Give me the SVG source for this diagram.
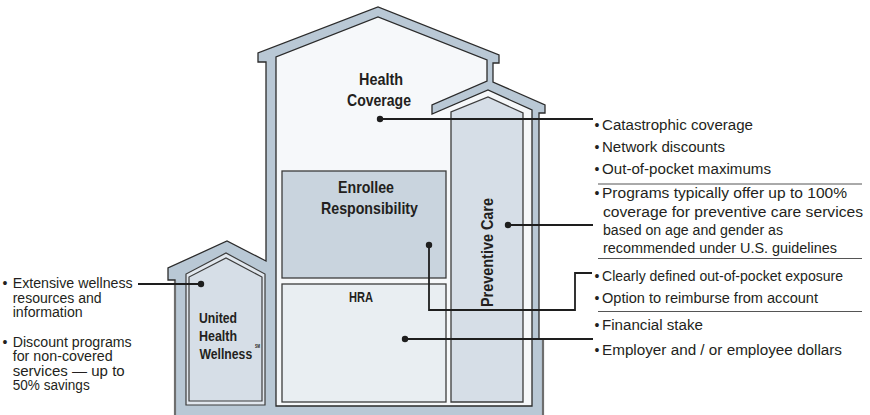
<svg xmlns="http://www.w3.org/2000/svg" width="870" height="415" viewBox="0 0 870 415">
  <style>
    .band { fill: #b9c8d5; stroke: #2b2b2b; stroke-width: 1.3; stroke-linejoin: miter; }
    .interior { fill: #f6f8fa; stroke: #2b2b2b; stroke-width: 1.3; }
    .enrollee { fill: #c9d4de; stroke: #3c3c3c; stroke-width: 1.3; }
    .hra { fill: #e9eef2; stroke: #3c3c3c; stroke-width: 1.3; }
    .prev { fill: #d6dee7; stroke: #3c3c3c; stroke-width: 1.3; }
    .well-outer { fill: #e1e7ee; stroke: #3c3c3c; stroke-width: 1.2; }
    .well-inner { fill: #d6dee7; stroke: #3c3c3c; stroke-width: 1.2; }
    .base { stroke: #6e6e6e; stroke-width: 2.2; fill: none; }
    .lbl { font-family: "Liberation Sans", Arial, sans-serif; font-weight: bold; fill: #231f20; }
    .txt { font-family: "Liberation Sans", Arial, sans-serif; font-size: 14px; fill: #231f20; }
    .conn { stroke: #1e1e1e; stroke-width: 1.8; fill: none; }
    .dot { fill: #1e1e1e; }
    .sep { stroke: #555555; stroke-width: 1; }
  </style>

  <!-- house shell: main building, chimney and the small side house -->
  <g id="house-shell">
    <polygon class="band" points="175,420 175,280 168,280 168,268 227,241 266,261 266,62 258,62 258,53 378,7 499,55 499,63 493,63 493,82 545,105 545,113 539,113 539,339 543,339 543,420"/>
    <line class="base" x1="175" y1="281" x2="175" y2="416"/>
    <line class="base" x1="543" y1="340" x2="543" y2="416"/>
  </g>

  <!-- Health Coverage: the main interior -->
  <g id="health-coverage">
    <polygon class="interior" points="276,406 276,57 378,17 487,60 487,81 432,105 432,114 488,90 532,110 532,406"/>
    <text class="lbl" font-size="16.5" x="359" y="85" textLength="44" lengthAdjust="spacingAndGlyphs">Health</text>
    <text class="lbl" font-size="16.5" x="347" y="105.5" textLength="64" lengthAdjust="spacingAndGlyphs">Coverage</text>
  </g>

  <g id="enrollee-responsibility">
    <rect class="enrollee" x="282" y="171" width="164" height="107"/>
    <text class="lbl" font-size="16.5" x="338" y="193" textLength="56" lengthAdjust="spacingAndGlyphs">Enrollee</text>
    <text class="lbl" font-size="16.5" x="321" y="213.5" textLength="97" lengthAdjust="spacingAndGlyphs">Responsibility</text>
  </g>

  <g id="hra">
    <rect class="hra" x="282" y="284" width="164" height="118"/>
    <text class="lbl" font-size="14" x="349" y="302" textLength="24" lengthAdjust="spacingAndGlyphs">HRA</text>
  </g>

  <g id="preventive-care">
    <polygon class="prev" points="451,402 451,112 488,97 523,113 523,402"/>
    <text class="lbl" font-size="16.5" transform="translate(493,307) rotate(-90)" x="0" y="0" textLength="109" lengthAdjust="spacingAndGlyphs">Preventive Care</text>
  </g>

  <g id="united-health-wellness">
    <polygon class="well-outer" points="186,405 186,274 226,253 265,274 265,405"/>
    <polygon class="well-inner" points="189,401 189,277 226,258 262,277 262,401"/>
    <text class="lbl" font-size="14" x="199" y="323" textLength="38" lengthAdjust="spacingAndGlyphs">United</text>
    <text class="lbl" font-size="14" x="199" y="341" textLength="38" lengthAdjust="spacingAndGlyphs">Health</text>
    <text class="lbl" font-size="14" transform="translate(199.5,359) scale(0.873,1)">Wellness</text>
    <text class="lbl" font-size="5" x="255" y="347.5" textLength="5" lengthAdjust="spacingAndGlyphs">SM</text>
  </g>

  <!-- leader lines from each area to its notes -->
  <g id="connectors">
    <path class="conn" d="M380,119 H593"/>
    <path class="conn" d="M508,225 H593"/>
    <path class="conn" d="M429,245 V310 H575 V273 H592"/>
    <path class="conn" d="M405,339 H593"/>
    <path class="conn" d="M201,284 H138"/>
    <circle class="dot" cx="380" cy="119" r="3.2"/>
    <circle class="dot" cx="508" cy="225" r="3.2"/>
    <circle class="dot" cx="429" cy="245" r="3.2"/>
    <circle class="dot" cx="405" cy="339" r="3.2"/>
    <circle class="dot" cx="201" cy="284" r="3.2"/>
  </g>

  <!-- notes on the left -->
  <g id="wellness-notes">
    <text class="txt" x="2.5" y="288">•</text>
    <text class="txt" x="12.7" y="288" textLength="120" lengthAdjust="spacingAndGlyphs">Extensive wellness</text>
    <text class="txt" x="12.7" y="302.5" textLength="89" lengthAdjust="spacingAndGlyphs">resources and</text>
    <text class="txt" x="12.7" y="317" textLength="70" lengthAdjust="spacingAndGlyphs">information</text>
    <text class="txt" x="2.5" y="346.5">•</text>
    <text class="txt" x="12.7" y="346.5" textLength="119" lengthAdjust="spacingAndGlyphs">Discount programs</text>
    <text class="txt" x="12.7" y="361" textLength="100" lengthAdjust="spacingAndGlyphs">for non-covered</text>
    <text class="txt" x="12.7" y="375.5" textLength="112" lengthAdjust="spacingAndGlyphs">services — up to</text>
    <text class="txt" x="12.7" y="390" textLength="77" lengthAdjust="spacingAndGlyphs">50% savings</text>
  </g>

  <!-- notes on the right -->
  <g id="coverage-notes">
    <text class="txt" x="594.5" y="130">•</text>
    <text class="txt" x="602" y="130" textLength="151" lengthAdjust="spacingAndGlyphs">Catastrophic coverage</text>
    <text class="txt" x="594.5" y="152">•</text>
    <text class="txt" x="602" y="152" textLength="123" lengthAdjust="spacingAndGlyphs">Network discounts</text>
    <text class="txt" x="594.5" y="174">•</text>
    <text class="txt" x="602" y="174" textLength="169" lengthAdjust="spacingAndGlyphs">Out-of-pocket maximums</text>
    <line class="sep" x1="598" y1="184" x2="862" y2="184"/>
  </g>
  <g id="preventive-notes">
    <text class="txt" x="594.5" y="198">•</text>
    <text class="txt" x="602" y="198" textLength="245" lengthAdjust="spacingAndGlyphs">Programs typically offer up to 100%</text>
    <text class="txt" x="603" y="216.5" textLength="260" lengthAdjust="spacingAndGlyphs">coverage for preventive care services</text>
    <text class="txt" x="603" y="235" textLength="180" lengthAdjust="spacingAndGlyphs">based on age and gender as</text>
    <text class="txt" x="603" y="253" textLength="234" lengthAdjust="spacingAndGlyphs">recommended under U.S. guidelines</text>
    <line class="sep" x1="598" y1="258.5" x2="862" y2="258.5"/>
  </g>
  <g id="enrollee-notes">
    <text class="txt" x="594.5" y="281">•</text>
    <text class="txt" x="602" y="281" textLength="241" lengthAdjust="spacingAndGlyphs">Clearly defined out-of-pocket exposure</text>
    <text class="txt" x="594.5" y="303">•</text>
    <text class="txt" x="602" y="303" textLength="216" lengthAdjust="spacingAndGlyphs">Option to reimburse from account</text>
    <line class="sep" x1="598" y1="311.5" x2="862" y2="311.5"/>
  </g>
  <g id="hra-notes">
    <text class="txt" x="594.5" y="330">•</text>
    <text class="txt" x="602" y="330" textLength="101" lengthAdjust="spacingAndGlyphs">Financial stake</text>
    <text class="txt" x="594.5" y="355">•</text>
    <text class="txt" x="602" y="355" textLength="240" lengthAdjust="spacingAndGlyphs">Employer and / or employee dollars</text>
  </g>
</svg>
